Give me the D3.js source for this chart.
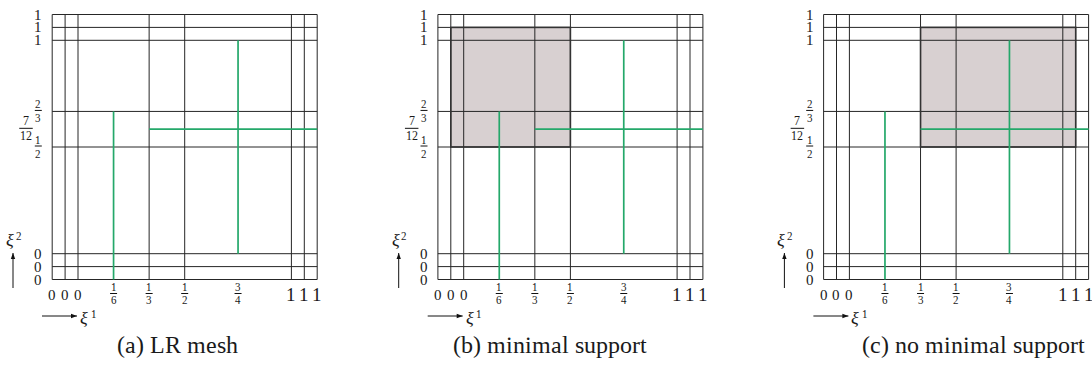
<!DOCTYPE html>
<html>
<head>
<meta charset="utf-8">
<script src="https://cdn.jsdelivr.net/npm/d3@7"></script>
<style>
  @font-face {
    font-family: "MeshSerif";
    src: local("Liberation Serif"), local("LiberationSerif"), local("LiberationSerif-Regular"), local("Times New Roman"), local("Tinos");
    font-style: normal;
  }
  @font-face {
    font-family: "MeshSerif";
    src: local("Liberation Serif Italic"), local("LiberationSerif-Italic"), local("Times New Roman Italic"), local("Tinos Italic");
    font-style: italic;
  }
</style>
</head>
<body style="margin:0">
<svg id="chart" width="1092" height="368"></svg>
<script>
// Knot vectors of the tensor mesh (repeated knots are spread apart when drawn)
const xKnots = [0, 0, 0, 1/3, 1/2, 1, 1, 1];
const yKnots = [0, 0, 0, 1/2, 2/3, 1, 1, 1];

// Inserted (local refinement) lines; end points are [knot value, repetition]
const insertedLines = [
  { dir: "v", at: 1/6,  from: [0, 2],   to: [2/3, 0] },
  { dir: "v", at: 3/4,  from: [0, 0],   to: [1, 0] },
  { dir: "h", at: 7/12, from: [1/3, 0], to: [1, 2] }
];

// Support of the B-spline highlighted in each panel
const supports = [
  null,
  { x: [[0, 1], [1/2, 0]],   y: [[1/2, 0], [1, 1]] },
  { x: [[1/3, 0], [1, 1]],   y: [[1/2, 0], [1, 1]] }
];

const captions = ["(a) LR mesh", "(b) minimal support", "(c) no minimal support"];

// Tick labels: [knot value, repetition, label]
const xTickLabels = [
  [0, 2, "0"], [0, 1, "0"], [0, 0, "0"],
  [1/6, 0, "1/6"], [1/3, 0, "1/3"], [1/2, 0, "1/2"], [3/4, 0, "3/4"],
  [1, 0, "1"], [1, 1, "1"], [1, 2, "1"]
];
const yTickLabels = [
  [0, 0, "0"], [0, 1, "0"], [0, 2, "0"],
  [1/2, 0, "1/2"], [7/12, 0, "7/12"], [2/3, 0, "2/3"],
  [1, 0, "1"], [1, 1, "1"], [1, 2, "1"]
];

// ---- layout ----
const panelShift = 385.7;
const captionX = [177.5, 550, 973];
const gap = 12.9;                  // spacing between repeated knot lines
const x = d3.scaleLinear().domain([0, 1]).range([78, 291.4]);
const y = d3.scaleLinear().domain([0, 1]).range([253.7, 40.3]);

const ink = "#1a1a1a";
const lineColor = "#262626";
const green = "#24a86a";
const shade = "#d8d0d1";

// pixel position of a (possibly repeated) knot: repetitions move outward
function kpos(s, v, rep) {
  const p = s(v);
  const mid = s(0.5);
  return p + (rep || 0) * gap * Math.sign(p - mid);
}
function reps(knots) {
  const seen = {};
  return knots.map(v => {
    const k = String(v);
    seen[k] = (seen[k] || 0);
    return [v, seen[k]++];
  });
}

const svg = d3.select("#chart");
svg.append("rect").attr("width", 1092).attr("height", 368).attr("fill", "#fff");

const xOuter = [kpos(x, 0, 2), kpos(x, 1, 2)];
const yOuter = [kpos(y, 0, 2), kpos(y, 1, 2)];

function text(g, px, py, txt, size, anchor, italic) {
  const t = g.append("text")
    .attr("font-family", "Liberation Serif")
    .style("font-family", '"MeshSerif"')
    .attr("font-size", size)
    .attr("x", px).attr("y", py)
    .attr("text-anchor", anchor || "middle")
    .attr("fill", ink).text(txt);
  if (italic) t.style("font-style", "italic");
  return t;
}

// stacked fraction; digits are half an em wide in this face
function fraction(g, cx, barY, lab, size, numGap, denGap) {
  const [n, d] = lab.split("/");
  text(g, cx, barY - numGap, n, size);
  text(g, cx, barY + denGap, d, size);
  const w = Math.max(n.length, d.length) * size * 0.5 + 1.5;
  g.append("line").attr("x1", cx - w / 2).attr("x2", cx + w / 2)
    .attr("y1", barY).attr("y2", barY)
    .attr("stroke", "#111").attr("stroke-width", 1);
}

captions.forEach((cap, i) => {
  const g = svg.append("g").attr("transform", `translate(${i * panelShift},0)`);

  // highlighted support
  const sup = supports[i];
  let supRect = null;
  if (sup) {
    const x0 = kpos(x, ...sup.x[0]), x1 = kpos(x, ...sup.x[1]);
    const y0 = kpos(y, ...sup.y[0]), y1 = kpos(y, ...sup.y[1]);
    supRect = { x: Math.min(x0, x1), y: Math.min(y0, y1), w: Math.abs(x1 - x0), h: Math.abs(y1 - y0) };
    g.append("rect")
      .attr("x", supRect.x).attr("y", supRect.y)
      .attr("width", supRect.w).attr("height", supRect.h)
      .attr("fill", shade);
  }

  // tensor mesh lines
  g.selectAll(".vline").data(reps(xKnots)).join("line")
    .attr("x1", d => kpos(x, d[0], d[1])).attr("x2", d => kpos(x, d[0], d[1]))
    .attr("y1", yOuter[0]).attr("y2", yOuter[1])
    .attr("stroke", lineColor).attr("stroke-width", 1);
  g.selectAll(".hline").data(reps(yKnots)).join("line")
    .attr("y1", d => kpos(y, d[0], d[1])).attr("y2", d => kpos(y, d[0], d[1]))
    .attr("x1", xOuter[0]).attr("x2", xOuter[1])
    .attr("stroke", lineColor).attr("stroke-width", 1);

  // border of the support
  if (supRect) {
    g.append("rect")
      .attr("x", supRect.x).attr("y", supRect.y)
      .attr("width", supRect.w).attr("height", supRect.h)
      .attr("fill", "none").attr("stroke", "#333").attr("stroke-width", 1.6);
  }

  // inserted lines
  g.selectAll(".ins").data(insertedLines).join("line")
    .attr("x1", d => d.dir === "v" ? x(d.at) : kpos(x, ...d.from))
    .attr("x2", d => d.dir === "v" ? x(d.at) : kpos(x, ...d.to))
    .attr("y1", d => d.dir === "v" ? kpos(y, ...d.from) : y(d.at))
    .attr("y2", d => d.dir === "v" ? kpos(y, ...d.to) : y(d.at))
    .attr("stroke", green).attr("stroke-width", 1.7);

  // x tick labels
  xTickLabels.forEach(([v, r, lab]) => {
    const px = kpos(x, v, r);
    if (lab.includes("/")) {
      fraction(g, px, 293.5, lab, 11, 2.8, 10.8);
    } else if (lab === "1") {
      text(g, px, 300.5, lab, 19);
    } else {
      text(g, px, 300, lab, 15);
    }
  });

  // y tick labels
  yTickLabels.forEach(([v, r, lab]) => {
    const py = kpos(y, v, r);
    if (lab === "7/12") {
      fraction(g, 26, py - 0.9, lab, 12, 3.3, 11.7);
    } else if (lab.includes("/")) {
      fraction(g, 38.3, py - 1, lab, 11, 2.3, 11.8);
    } else {
      text(g, 38.3, py + 5, lab, 15);
    }
  });

  // parameter direction arrows
  const arrow = (x1, y1, x2, y2) => {
    g.append("line").attr("x1", x1).attr("y1", y1).attr("x2", x2).attr("y2", y2)
      .attr("stroke", "#111").attr("stroke-width", 1);
    const a = Math.atan2(y2 - y1, x2 - x1), L = 6, W = 2.2;
    const bx = x2 - L * Math.cos(a), by = y2 - L * Math.sin(a);
    g.append("path")
      .attr("d", `M${x2},${y2}L${bx - W * Math.sin(a)},${by + W * Math.cos(a)}L${bx + W * Math.sin(a)},${by - W * Math.cos(a)}Z`)
      .attr("fill", "#111");
  };
  arrow(13, 288, 13, 253);
  arrow(42, 316, 77, 316);

  text(g, 6, 246, "ξ", 18, "start", true);
  text(g, 15.5, 240, "2", 11, "start");
  text(g, 80, 324, "ξ", 18, "start", true);
  text(g, 90.5, 318, "1", 11, "start");

  // sub-caption
  text(svg, captionX[i], 353, cap, 24);
});
</script>
</body>
</html>
